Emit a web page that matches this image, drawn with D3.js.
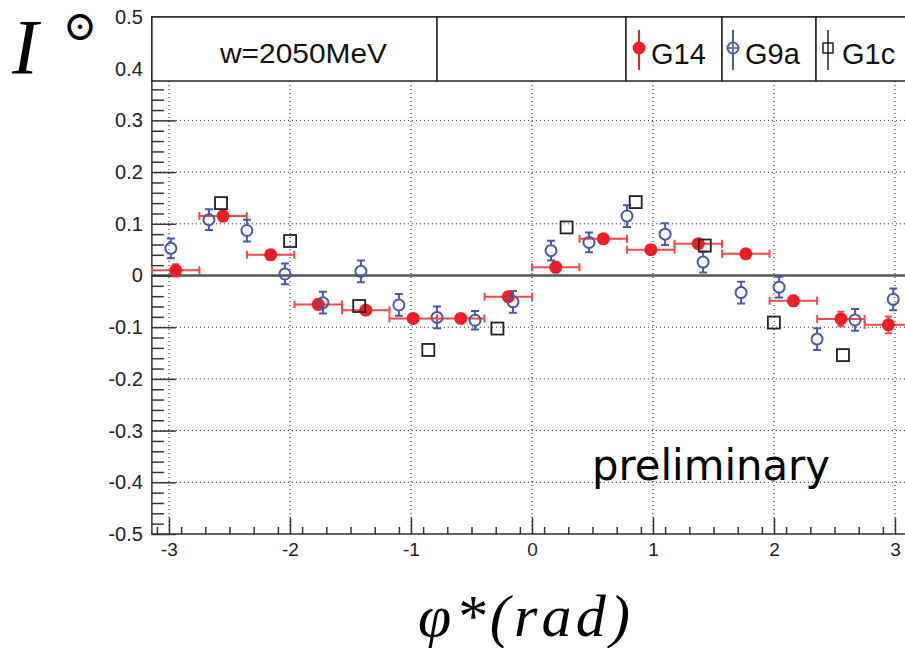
<!DOCTYPE html>
<html><head><meta charset="utf-8">
<script src="https://cdn.jsdelivr.net/npm/d3@7"></script>
<style>body{margin:0;background:#fff}svg{display:block}</style>
</head><body><svg id="c" width="905" height="648"></svg>
<script>
// ---- data ----
const xTicks = [-3, -2, -1, 0, 1, 2, 3];
const yTicks = [-0.5, -0.4, -0.3, -0.2, -0.1, 0, 0.1, 0.2, 0.3, 0.4, 0.5];
const titleText = "w=2050MeV";
const seriesNames = ["G14", "G9a", "G1c"];

const g14X = [-2.945, -2.553, -2.160, -1.767, -1.374, -0.982, -0.589, -0.196, 0.196, 0.589, 0.982, 1.374, 1.767, 2.160, 2.553, 2.945];
const g14Y = [0.010, 0.115, 0.040, -0.056, -0.067, -0.083, -0.083, -0.041, 0.016, 0.071, 0.050, 0.0615, 0.042, -0.049, -0.084, -0.0955];
const g14XErr = [0.196, 0.196, 0.196, 0.196, 0.196, 0.196, 0.196, 0.196, 0.196, 0.196, 0.196, 0.196, 0.196, 0.196, 0.196, 0.196];
const g14YErr = [0.012, 0.010, 0.008, 0.010, 0.008, 0.008, 0.008, 0.008, 0.010, 0.008, 0.008, 0.008, 0.008, 0.010, 0.014, 0.016];

const g9aX = [-2.985, -2.670, -2.356, -2.042, -1.728, -1.414, -1.100, -0.785, -0.471, -0.157, 0.157, 0.471, 0.785, 1.100, 1.414, 1.728, 2.042, 2.356, 2.670, 2.985];
const g9aY = [0.0525, 0.108, 0.087, 0.003, -0.0525, 0.008, -0.057, -0.081, -0.0865, -0.051, 0.048, 0.064, 0.115, 0.080, 0.026, -0.033, -0.0225, -0.123, -0.086, -0.046];
const g9aYErr = [0.019, 0.020, 0.021, 0.020, 0.021, 0.021, 0.021, 0.021, 0.018, 0.021, 0.019, 0.019, 0.021, 0.021, 0.020, 0.021, 0.020, 0.021, 0.021, 0.021];

const g1cX = [-2.570, -1.999, -1.428, -0.857, -0.286, 0.286, 0.857, 1.428, 1.999, 2.570];
const g1cY = [0.140, 0.0667, -0.059, -0.144, -0.1026, 0.093, 0.142, 0.058, -0.091, -0.154];

// ---- layout ----
const RED = "#ee1f24", REDLINE = "#f0484c", BLUE = "#4a58a8", DARK = "#333";
const svg = d3.select("#c");
const x = d3.scaleLinear().domain([-3, 3]).range([169, 895]);
const y = d3.scaleLinear().domain([-0.5, 0.5]).range([534, 17]);
const xL = x(-Math.PI), xR = x(Math.PI), yB = y(-0.5), yT = y(0.5);
const fmt = v => Math.abs(v) < 1e-9 ? "0" : v.toFixed(Number.isInteger(v) ? 0 : 1);

// grid
const grid = svg.append("g").attr("stroke", "#111").attr("stroke-width", 1).attr("stroke-dasharray", "1,3");
grid.selectAll("line.v").data(xTicks).join("line")
  .attr("x1", d => x(d)).attr("x2", d => x(d)).attr("y1", yT).attr("y2", yB);
grid.selectAll("line.h").data(yTicks.filter(d => d !== 0 && d !== -0.5 && d !== 0.5)).join("line")
  .attr("x1", xL).attr("x2", xR).attr("y1", d => y(d)).attr("y2", d => y(d));

// zero line
svg.append("line").attr("x1", xL).attr("x2", xR).attr("y1", y(0)).attr("y2", y(0))
  .attr("stroke", "#555").attr("stroke-width", 2.5);

// axes
const yMinor = d3.range(-50, 51, 2).map(v => v / 100).filter(v => !yTicks.some(t => Math.abs(t - v) < 1e-9));
const xMinor = d3.range(-31, 32, 2).map(v => v / 10).filter(v => v >= -Math.PI && v <= Math.PI && !xTicks.some(t => Math.abs(t - v) < 1e-9));

const gy = svg.append("g").attr("transform", `translate(${xL},0)`)
  .call(d3.axisLeft(y).tickValues(yTicks).tickSize(-24).tickSizeOuter(0).tickPadding(9).tickFormat(fmt));
const gym = svg.append("g").attr("transform", `translate(${xL},0)`)
  .call(d3.axisLeft(y).tickValues(yMinor).tickSize(-12).tickSizeOuter(0).tickFormat(""));
const gx = svg.append("g").attr("transform", `translate(0,${yB})`)
  .call(d3.axisBottom(x).tickValues(xTicks).tickSize(-16).tickSizeOuter(0).tickPadding(9).tickFormat(fmt));
const gxm = svg.append("g").attr("transform", `translate(0,${yB})`)
  .call(d3.axisBottom(x).tickValues(xMinor).tickSize(-7).tickSizeOuter(0).tickFormat(""));
[gy, gym, gx, gxm].forEach(g => {
  g.select(".domain").remove();
  g.selectAll("line").attr("stroke", DARK).attr("stroke-width", 1.5);
  g.selectAll("text").attr("font-family", "Liberation Sans, Arial, sans-serif").attr("font-size", 20).attr("fill", "#222");
});
gx.selectAll("text").attr("font-size", 19);

// frame
svg.append("path").attr("d", `M${xR},${yT}V${yB}H${xL}V${yT}Z`)
  .attr("fill", "none").attr("stroke", DARK).attr("stroke-width", 1.5);

// G14 : red filled circles with horizontal bin errors
const gR = svg.append("g");
const red = g14X.map((v, i) => ({x: v, y: g14Y[i], ex: g14XErr[i], ey: g14YErr[i]}));
gR.selectAll("path.err").data(red).join("path")
  .attr("d", d => `M${x(d.x - d.ex)},${y(d.y)}H${x(d.x + d.ex)}` +
    `M${x(d.x - d.ex)},${y(d.y) - 4}v8M${x(d.x + d.ex)},${y(d.y) - 4}v8` +
    `M${x(d.x)},${y(d.y + d.ey)}V${y(d.y - d.ey)}M${x(d.x) - 3.5},${y(d.y + d.ey)}h7M${x(d.x) - 3.5},${y(d.y - d.ey)}h7`)
  .attr("stroke", REDLINE).attr("stroke-width", 2).attr("fill", "none");
gR.selectAll("circle").data(red).join("circle")
  .attr("cx", d => x(d.x)).attr("cy", d => y(d.y)).attr("r", 6.5).attr("fill", RED);

// G9a : blue open circles with vertical errors
const gB = svg.append("g");
const blue = g9aX.map((v, i) => ({x: v, y: g9aY[i], ey: g9aYErr[i]}));
gB.selectAll("path").data(blue).join("path")
  .attr("d", d => `M${x(d.x)},${y(d.y + d.ey)}V${y(d.y) - 5.5}M${x(d.x)},${y(d.y) + 5.5}V${y(d.y - d.ey)}` +
    `M${x(d.x) - 4},${y(d.y + d.ey)}h8M${x(d.x) - 4},${y(d.y - d.ey)}h8`)
  .attr("stroke", BLUE).attr("stroke-width", 2).attr("fill", "none");
gB.selectAll("circle").data(blue).join("circle")
  .attr("cx", d => x(d.x)).attr("cy", d => y(d.y)).attr("r", 5.5)
  .attr("fill", "none").attr("stroke", BLUE).attr("stroke-width", 2);

// G1c : black open squares
const gK = svg.append("g");
const blk = g1cX.map((v, i) => ({x: v, y: g1cY[i]}));
gK.selectAll("rect").data(blk).join("rect")
  .attr("x", d => x(d.x) - 6).attr("y", d => y(d.y) - 6).attr("width", 12).attr("height", 12)
  .attr("fill", "none").attr("stroke", "#222").attr("stroke-width", 1.8);

// legend / title bar
const lb = svg.append("g");
const yLegB = 81;
const boxes = [[xL, 437], [437, 626], [626, 722], [722, 816], [816, 940]];
lb.selectAll("rect").data(boxes).join("rect")
  .attr("x", d => d[0]).attr("y", yT).attr("width", d => d[1] - d[0]).attr("height", yLegB - yT)
  .attr("fill", "#fff").attr("stroke", "#222").attr("stroke-width", 1.5);
lb.append("text").attr("x", 220).attr("y", 63).text(titleText)
  .attr("font-family", "Liberation Sans, Arial, sans-serif").attr("font-size", 28)
  .attr("textLength", 167).attr("lengthAdjust", "spacingAndGlyphs").attr("fill", "#111");
const legX = [639, 733, 828];
const legTX = [651, 745, 842];
// G14 marker
lb.append("line").attr("x1", legX[0]).attr("x2", legX[0]).attr("y1", 30).attr("y2", 70).attr("stroke", RED).attr("stroke-width", 2);
lb.append("circle").attr("cx", legX[0]).attr("cy", 48).attr("r", 6.5).attr("fill", RED);
// G9a marker
lb.append("line").attr("x1", legX[1]).attr("x2", legX[1]).attr("y1", 30).attr("y2", 70).attr("stroke", BLUE).attr("stroke-width", 2);
lb.append("circle").attr("cx", legX[1]).attr("cy", 48).attr("r", 5.5).attr("fill", "#fff").attr("stroke", BLUE).attr("stroke-width", 2);
lb.append("line").attr("x1", legX[1] - 5.5).attr("x2", legX[1] + 5.5).attr("y1", 48).attr("y2", 48).attr("stroke", BLUE).attr("stroke-width", 1.5);
lb.append("line").attr("x1", legX[1]).attr("x2", legX[1]).attr("y1", 42).attr("y2", 54).attr("stroke", BLUE).attr("stroke-width", 1.5);
// G1c marker
lb.append("line").attr("x1", legX[2]).attr("x2", legX[2]).attr("y1", 30).attr("y2", 70).attr("stroke", "#222").attr("stroke-width", 1.5);
lb.append("rect").attr("x", legX[2] - 5).attr("y", 43).attr("width", 10).attr("height", 10)
  .attr("fill", "none").attr("stroke", "#222").attr("stroke-width", 1.5);
lb.selectAll("text.leg").data(seriesNames).join("text").attr("class", "leg")
  .attr("x", (d, i) => legTX[i]).attr("y", 64).text(d => d)
  .attr("font-family", "Liberation Sans, Arial, sans-serif").attr("font-size", 29).attr("fill", "#111");

// y title  I ⊙
svg.append("text").attr("x", 12).attr("y", 73).text("I")
  .attr("font-family", "Liberation Serif, Times New Roman, serif").attr("font-style", "italic")
  .attr("font-size", 78).attr("fill", "#000");
svg.append("text").attr("x", 80).attr("y", 40).text("\u2299")
  .attr("text-anchor", "middle")
  .attr("font-family", "Noto Sans CJK JP, sans-serif").attr("font-weight", 700).attr("font-size", 34).attr("fill", "#000");

// x title
svg.append("text").attr("x", 418).attr("y", 636).text("\u03C6*(rad)")
  .attr("font-family", "Liberation Serif, Times New Roman, serif").attr("font-style", "italic")
  .attr("font-size", 60).attr("textLength", 212).attr("lengthAdjust", "spacing").attr("fill", "#000");

// preliminary
svg.append("text").attr("x", 592).attr("y", 480).text("preliminary")
  .attr("font-family", "DejaVu Sans, sans-serif").attr("font-size", 42)
  .attr("textLength", 238).attr("lengthAdjust", "spacingAndGlyphs").attr("fill", "#000");
</script></body></html>
